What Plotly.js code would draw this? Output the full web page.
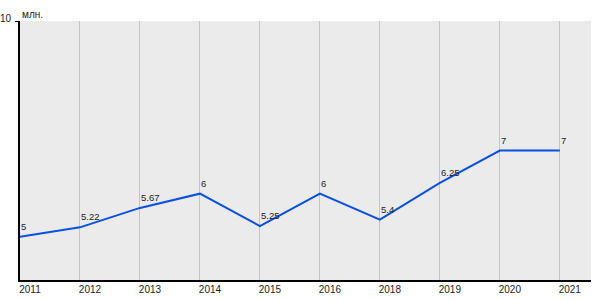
<!DOCTYPE html>
<html><head><meta charset="utf-8">
<script src="https://cdn.plot.ly/plotly-3.0.1.min.js"></script>
<style>body{margin:0;background:#fff}#c{width:600px;height:300px}</style>
</head><body><div id="c"></div>
<script>
const years = ["2011","2012","2013","2014","2015","2016","2018","2019","2020","2021"];
const values = [5, 5.22, 5.67, 6, 5.25, 6, 5.4, 6.25, 7, 7];
const labels = ["5","5.22","5.67","6","5.25","6","5.4","6.25","7","7"];
const yTickVals = [10];
const yTickText = ["10"];
const unitLabel = "млн.";

const font = "Liberation Sans, Arial, sans-serif";
const dataAnn = years.map((yr, i) => ({
  x: i, y: values[i], xref: "x", yref: "y", text: labels[i], showarrow: false,
  xanchor: "left", yanchor: "bottom", xshift: -1, yshift: 3,
  font: {family: font, size: 9.5, color: "#222"}
}));

Plotly.newPlot("c", [{
  x: years, y: values, type: "scatter", mode: "lines",
  line: {color: "#0650e4", width: 2},
  hoverinfo: "none"
}], {
  width: 600, height: 300,
  margin: {l: 20, r: 9, t: 21, b: 20, pad: 0},
  paper_bgcolor: "#ffffff", plot_bgcolor: "#ebebeb",
  showlegend: false,
  font: {family: font, size: 11, color: "#222"},
  xaxis: {
    type: "category", range: [0, 9.52], showgrid: true, gridcolor: "#c4c4c4", gridwidth: 1,
    showline: true, linecolor: "#000", linewidth: 2, ticks: "", zeroline: false,
    ticklabelshift: 10, tickfont: {size: 10, color: "#222"}, ticklabelstandoff: -1
  },
  yaxis: {
    range: [4, 10], showgrid: false, zeroline: false, showline: true, linecolor: "#000", linewidth: 2,
    tickmode: "array", tickvals: yTickVals, ticktext: yTickText, ticks: "outside", ticklen: 3,
    tickcolor: "#000", tickfont: {size: 10, color: "#222"}, ticklabelstandoff: 2, ticklabelshift: -3
  },
  annotations: dataAnn.concat([{
    text: unitLabel, xref: "paper", yref: "paper", x: 0, y: 1, xanchor: "left", yanchor: "bottom",
    showarrow: false, xshift: 0, yshift: -1, font: {family: font, size: 10, color: "#222"}
  }])
}, {staticPlot: true});
</script></body></html>
